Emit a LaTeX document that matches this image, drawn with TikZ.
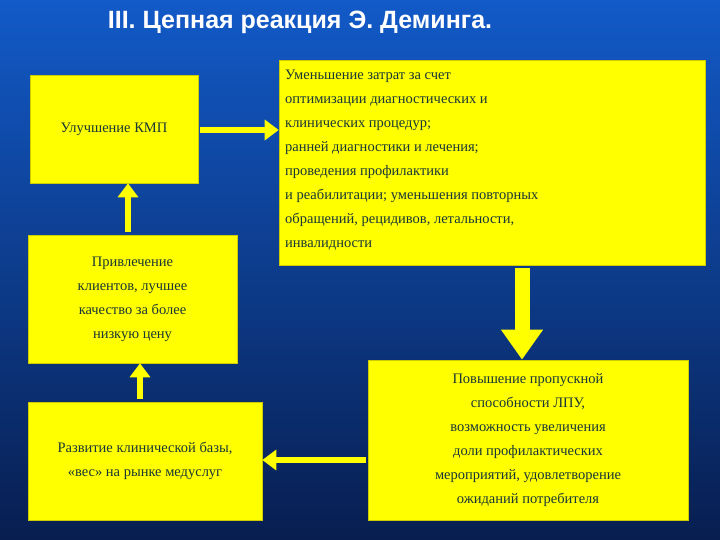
\documentclass[tikz,border=0pt]{standalone}
\usepackage{fontspec}
\setmainfont{Liberation Serif}
\newfontfamily\titlefont{Liberation Sans}
\usetikzlibrary{arrows.meta}
\definecolor{bgtop}{RGB}{18,90,200}
\definecolor{bgbot}{RGB}{8,30,80}
\definecolor{boxy}{RGB}{255,255,0}
\definecolor{txt}{RGB}{25,55,55}
\begin{document}
\begin{tikzpicture}[x=1pt,y=-1pt,
  box/.style={fill=boxy,draw=boxy!80!black,line width=0.6pt,inner sep=0pt,text=txt,font=\fontsize{14.5}{24}\selectfont},
  thinarr/.style={draw=boxy,line width=6pt,-{Triangle[width=20pt,length=14pt]}},
  fatarr/.style={draw=boxy,line width=15pt,-{Triangle[width=40pt,length=30pt]}}]
\shade[top color=bgtop,bottom color=bgbot] (0,0) rectangle (720,540);
\useasboundingbox (0,0) rectangle (720,540);
\node[text=white,font=\titlefont\bfseries\fontsize{25}{30}\selectfont] (t) at (300,22) {III. Цепная реакция Э. Деминга.};
\node[box,minimum width=168pt,minimum height=108pt] (a) at (114,129) {Улучшение КМП};
\node[box,minimum width=426pt,minimum height=205pt] (b) at (492,162.5) {};
\node[text=txt,font=\fontsize{14.5}{24}\selectfont,align=left,anchor=north west,inner sep=0pt] (bt) at (285,70) {Уменьшение затрат за счет\\оптимизации диагностических и\\клинических процедур;\\ранней диагностики и лечения;\\проведения профилактики\\и реабилитации; уменьшения повторных\\обращений, рецидивов, летальности,\\инвалидности};
\node[box,minimum width=209pt,minimum height=128pt,align=center] (c) at (132.5,299) {Привлечение\\клиентов, лучшее\\качество за более\\низкую цену};
\node[box,minimum width=234pt,minimum height=118pt,align=center] (d) at (145,461) {Развитие клинической базы,\\«вес» на рынке медуслуг};
\node[box,minimum width=320pt,minimum height=160pt,align=center] (e) at (528,440) {Повышение пропускной\\способности ЛПУ,\\возможность увеличения\\доли профилактических\\мероприятий, удовлетворение\\ожиданий потребителя};
\draw[thinarr] (a.east) ++(2,1) coordinate (a1) -- (b.west|-a1);
\draw[thinarr] (c.north-|128,0) ++(0,-3) -- (a.south-|128,0);
\draw[fatarr] (b.south-|522,0) ++(0,3) -- (e.north-|522,0);
\draw[thinarr] (e.west|-0,460) ++(-2,0) -- (d.east|-0,460);
\draw[thinarr] (d.north-|140,0) ++(0,-3) -- (c.south-|140,0);
\end{tikzpicture}
\end{document}
